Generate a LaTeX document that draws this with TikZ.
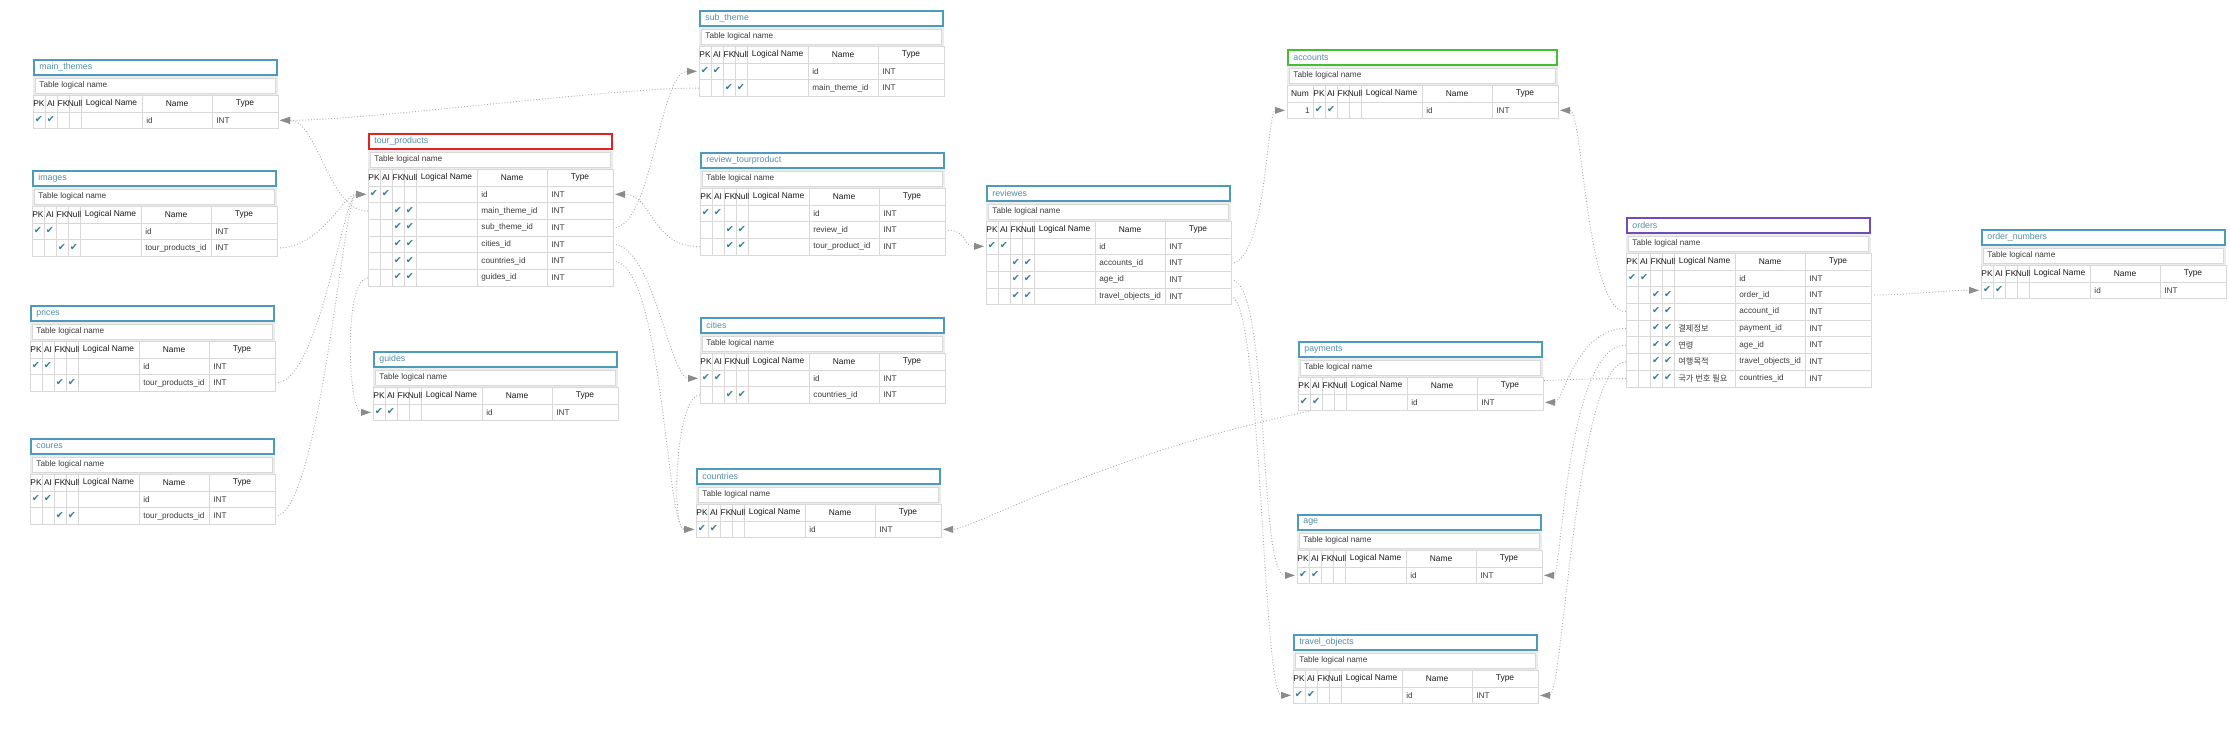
\documentclass[tikz,border=0pt]{standalone}
\usepackage{fontspec}
\setmainfont{Liberation Sans}
\newfontfamily\krfont{Noto Sans CJK KR}
\newfontfamily\chkfont{DejaVu Sans}
\usepackage{tikz}
\usetikzlibrary{arrows.meta}

\definecolor{tealline}{RGB}{75,155,185}
\definecolor{redline}{RGB}{225,35,35}
\definecolor{greenline}{RGB}{70,190,50}
\definecolor{purpleline}{RGB}{115,75,185}
\definecolor{titletxt}{RGB}{80,145,165}
\definecolor{chkcol}{RGB}{55,125,145}
\definecolor{cellline}{RGB}{216,216,216}
\definecolor{bandgray}{RGB}{236,236,236}
\definecolor{linkgray}{RGB}{170,170,170}
\definecolor{tipgray}{RGB}{140,140,140}
\definecolor{txtgray}{RGB}{60,60,60}

\pgfdeclarelayer{links}
\pgfsetlayers{links,main}

\tikzset{
  cell/.style={draw=cellline, line width=.4pt},
  celltext/.style={anchor=west, inner sep=0pt, text=txtgray, font=\fontsize{4.1}{5}\selectfont},
  headtext/.style={inner sep=0pt, text=black!90, font=\fontsize{4.2}{5}\selectfont},
  chk/.style={inner sep=0pt, text=chkcol, font=\chkfont\fontsize{4.8}{5}\selectfont},
  titlebox/.style={line width=1.3pt, fill=white},
  titletext/.style={anchor=west, inner sep=0pt, text=titletxt, font=\fontsize{4.4}{5}\selectfont},
  fkline/.style={densely dotted, draw=linkgray, line width=.45pt, shorten >=1pt,
    -{Triangle[length=5pt, width=3.4pt, color=tipgray]}}
}

% #1 node name, #2 title, #3/#4 top left, #5 frame colour, #6 Num column, #7 rows
\newcommand{\erdtable}[7]{%
  \begin{scope}[shift={(#3,#4)}]
    \pgfmathsetmacro\tw{245+#6}
    \fill[bandgray] (0,17) rectangle (\tw,36);
    \draw[cell, fill=white] (2.5,19) rectangle (\tw-2.5,34);
    \node[celltext] at (6,26.5) {Table logical name};
    \draw[titlebox, draw=#5] (1,1) rectangle (\tw-1,16);
    \node[titletext] at (6,8.5) (#1) {#2};
    \draw[cell, fill=white] (0,36) rectangle (\tw,53);
    \foreach \cx in {0,12,24,36,48,109,179} \draw[cell] (#6+\cx,36) -- (#6+\cx,53);
    \ifdim #6pt>0pt \node[headtext] at (#6/2,44.5) {Num}; \fi
    \node[headtext] at (#6+6,44.5) {PK};
    \node[headtext] at (#6+18,44.5) {AI};
    \node[headtext] at (#6+30,44.5) {FK};
    \node[headtext] at (#6+42,44.5) {Null};
    \node[headtext] at (#6+78.5,44.5) {Logical Name};
    \node[headtext] at (#6+144,44.5) {Name};
    \node[headtext] at (#6+212,44.5) {Type};
    \foreach \rn/\rk/\rl [count=\ri] in {#7} {
      \pgfmathsetmacro\yt{53+16.7*(\ri-1)}
      \pgfmathsetmacro\yc{\yt+8.35}
      \draw[cell, fill=white] (0,\yt) rectangle (\tw,\yt+16.7);
      \foreach \cx in {0,12,24,36,48,109,179} \draw[cell] (#6+\cx,\yt) -- (#6+\cx,\yt+16.7);
      \ifdim #6pt>0pt \node[celltext, anchor=east] at (#6-3,\yc) {\ri}; \fi
      \node[chk] at (#6+\rk+6,\yc-1) {✔};
      \node[chk] at (#6+\rk+18,\yc-1) {✔};
      \node[celltext] at (#6+52,\yc) {\rl};
      \node[celltext] at (#6+113,\yc) {\rn};
      \node[celltext] at (#6+183,\yc) {INT};
      \coordinate (#1-\ri-l) at (0,\yc);
      \coordinate (#1-\ri-r) at (\tw,\yc);
    }
  \end{scope}
}

\begin{document}
\begin{tikzpicture}[x=.5pt, y=-.5pt]
  \useasboundingbox (0,0) rectangle (2230,738);
  \erdtable{mainthemes}{main\_themes}{33}{59}{tealline}{0}{id/0/{}}
  \erdtable{images}{images}{32}{170}{tealline}{0}{id/0/{}, tour\_products\_id/24/{}}
  \erdtable{prices}{prices}{30}{305}{tealline}{0}{id/0/{}, tour\_products\_id/24/{}}
  \erdtable{coures}{coures}{30}{438}{tealline}{0}{id/0/{}, tour\_products\_id/24/{}}
  \erdtable{tourprod}{tour\_products}{368}{133}{redline}{0}{id/0/{},
    main\_theme\_id/24/{}, sub\_theme\_id/24/{}, cities\_id/24/{},
    countries\_id/24/{}, guides\_id/24/{}}
  \erdtable{guides}{guides}{373}{351}{tealline}{0}{id/0/{}}
  \erdtable{subtheme}{sub\_theme}{699}{10}{tealline}{0}{id/0/{}, main\_theme\_id/24/{}}
  \erdtable{reviewtp}{review\_tourproduct}{700}{152}{tealline}{0}{id/0/{},
    review\_id/24/{}, tour\_product\_id/24/{}}
  \erdtable{cities}{cities}{700}{317}{tealline}{0}{id/0/{}, countries\_id/24/{}}
  \erdtable{countries}{countries}{696}{468}{tealline}{0}{id/0/{}}
  \erdtable{reviewes}{reviewes}{986}{185}{tealline}{0}{id/0/{},
    accounts\_id/24/{}, age\_id/24/{}, travel\_objects\_id/24/{}}
  \erdtable{accounts}{accounts}{1287}{49}{greenline}{26}{id/0/{}}
  \erdtable{orders}{orders}{1626}{217}{purpleline}{0}{id/0/{},
    order\_id/24/{}, account\_id/24/{},
    payment\_id/24/{\krfont 결제정보}, age\_id/24/{\krfont 연령},
    travel\_objects\_id/24/{\krfont 여행목적}, countries\_id/24/{\krfont 국가 번호 필요}}
  \erdtable{payments}{payments}{1298}{341}{tealline}{0}{id/0/{}}
  \erdtable{age}{age}{1297}{514}{tealline}{0}{id/0/{}}
  \erdtable{travelobj}{travel\_objects}{1293}{634}{tealline}{0}{id/0/{}}
  \erdtable{ordernum}{order\_numbers}{1981}{229}{tealline}{0}{id/0/{}}

  \begin{pgfonlayer}{links}
    \draw[fkline] (subtheme-2-l) .. controls +(-90,0) and +(90,0) .. (mainthemes-1-r);
    \draw[fkline] (tourprod-2-l) .. controls +(-40,0) and +(40,0) .. (mainthemes-1-r);
    \draw[fkline] (tourprod-3-r) .. controls +(40,0) and +(-40,0) .. (subtheme-1-l);
    \draw[fkline] (reviewtp-3-l) .. controls +(-50,0) and +(40,0) .. (tourprod-1-r);
    \draw[fkline] (reviewtp-2-r) .. controls +(25,0) and +(-25,0) .. (reviewes-1-l);
    \draw[fkline] (tourprod-4-r) .. controls +(40,0) and +(-30,0) .. (cities-1-l);
    \draw[fkline] (tourprod-5-r) .. controls +(50,0) and +(-30,0) .. (countries-1-l);
    \draw[fkline] (cities-2-l) .. controls +(-25,0) and +(-25,0) .. (countries-1-l);
    \draw[fkline] (tourprod-6-l) .. controls +(-25,0) and +(-25,0) .. (guides-1-l);
    \draw[fkline] (images-2-r) .. controls +(45,0) and +(-25,0) .. (tourprod-1-l);
    \draw[fkline] (prices-2-r) .. controls +(45,0) and +(-25,0) .. (tourprod-1-l);
    \draw[fkline] (coures-2-r) .. controls +(45,0) and +(-25,0) .. (tourprod-1-l);
    \draw[fkline] (reviewes-2-r) .. controls +(35,0) and +(-20,0) .. (accounts-1-l);
    \draw[fkline] (reviewes-3-r) .. controls +(40,0) and +(-40,0) .. (age-1-l);
    \draw[fkline] (reviewes-4-r) .. controls +(30,0) and +(-30,0) .. (travelobj-1-l);
    \draw[fkline] (orders-3-l) .. controls +(-40,0) and +(25,0) .. (accounts-1-r);
    \draw[fkline] (orders-2-r) .. controls +(40,0) and +(-40,0) .. (ordernum-1-l);
    \draw[fkline] (orders-4-l) .. controls +(-50,0) and +(20,0) .. (payments-1-r);
    \draw[fkline] (orders-5-l) .. controls +(-60,0) and +(20,0) .. (age-1-r);
    \draw[fkline] (orders-6-l) .. controls +(-50,0) and +(25,0) .. (travelobj-1-r);
    \draw[fkline] (orders-7-l) .. controls +(-400,0) and +(40,0) .. (countries-1-r);
  \end{pgfonlayer}
\end{tikzpicture}
\end{document}
